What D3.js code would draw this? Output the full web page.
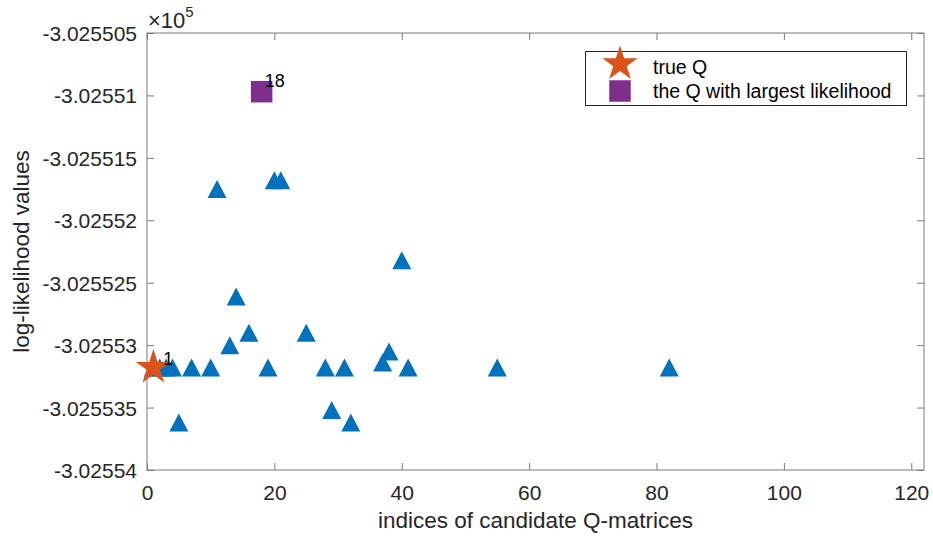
<!DOCTYPE html>
<html>
<head>
<meta charset="utf-8">
<script src="https://cdn.jsdelivr.net/npm/d3@7"></script>
<style>
  body { margin: 0; background: #fff; }
  svg { display: block; font-family: Helvetica, "Liberation Sans", Arial, sans-serif; }
</style>
</head>
<body>
<div id="chart"></div>
<script>
// candidate indices and their log-likelihood values (in units of 1e5)
const candidateIdx = [1, 2, 3, 4, 5, 7, 10, 11, 13, 14, 16, 18, 19, 20, 21, 25, 28, 29, 31, 32, 37, 38, 40, 41, 55, 82]
const logLik = [-3.0255318, -3.0255318, -3.0255318, -3.0255318, -3.0255362, -3.0255318, -3.0255318,
  -3.0255175, -3.0255300, -3.0255261, -3.0255290, -3.0255097, -3.0255318, -3.0255168, -3.0255168,
  -3.0255290, -3.0255318, -3.0255352, -3.0255318, -3.0255362, -3.0255314, -3.0255305, -3.0255232,
  -3.0255318, -3.0255318, -3.0255318]

const trueIdx = [1]
const trueLik = [-3.0255318]
const bestIdx = [18]
const bestLik = [-3.0255097]

const xTicks = [0, 20, 40, 60, 80, 100, 120]
const yTickLabels = ['-3.025505', '-3.02551', '-3.025515', '-3.02552', '-3.025525', '-3.02553', '-3.025535', '-3.02554']
const legendLabels = ['true Q', 'the Q with largest likelihood']

const W = 933, H = 539
const margin = { top: 33, right: 9, bottom: 69, left: 147 }
const blue = '#0072BD', orange = '#D95319', purple = '#7E2F8E'
const textColor = '#262626', axisColor = '#7a7a7a'

const x = d3.scaleLinear().domain([0, 122]).range([margin.left, W - margin.right])
const y = d3.scaleLinear().domain([-3.02554, -3.025505]).range([H - margin.bottom, margin.top])

const svg = d3.select('#chart').append('svg').attr('width', W).attr('height', H)

// triangle marker centred on its bounding box, like matlab '^'
const triType = {
  draw (ctx, size) {
    const w = 19, h = 18
    ctx.moveTo(0, -h / 2)
    ctx.lineTo(w / 2, h / 2)
    ctx.lineTo(-w / 2, h / 2)
    ctx.closePath()
  }
}
const squareType = {
  draw (ctx, size) {
    const s = 21.5
    ctx.rect(-s / 2, -s / 2, s, s)
  }
}

// axes (ticks pointing inward, box on)
const yTickVals = yTickLabels.map(Number)
const addAxis = (axis, tx, ty, showLabels) => {
  const g = svg.append('g').attr('transform', `translate(${tx},${ty})`).call(axis)
  g.select('.domain').remove()
  g.selectAll('.tick line').attr('stroke', axisColor)
  if (!showLabels) g.selectAll('.tick text').remove()
  return g
}
addAxis(d3.axisBottom(x).tickValues(xTicks).tickSizeInner(-7).tickSizeOuter(0).tickPadding(15), 0, H - margin.bottom, true)
addAxis(d3.axisTop(x).tickValues(xTicks).tickSizeInner(-7).tickSizeOuter(0), 0, margin.top, false)
const yl = addAxis(d3.axisLeft(y).tickValues(yTickVals).tickSizeInner(-7).tickSizeOuter(0).tickPadding(10)
  .tickFormat((d, i) => yTickLabels[i]), margin.left, 0, true)
addAxis(d3.axisRight(y).tickValues(yTickVals).tickSizeInner(-7).tickSizeOuter(0), W - margin.right, 0, false)
svg.selectAll('.tick text').attr('fill', textColor).style('font-size', '21px')
  .style('font-family', 'Helvetica, "Liberation Sans", Arial, sans-serif')
yl.selectAll('.tick text').attr('dy', '0.36em')

svg.append('rect')
  .attr('x', margin.left).attr('y', margin.top)
  .attr('width', W - margin.right - margin.left).attr('height', H - margin.bottom - margin.top)
  .attr('fill', 'none').attr('stroke', axisColor).attr('stroke-width', 1)

// exponent label
const ex = svg.append('text').attr('x', margin.left + 1).attr('y', 28).attr('fill', textColor)
ex.append('tspan').style('font-size', '22px').text('×10')
ex.append('tspan').attr('dy', -11).style('font-size', '15px').text('5')

// axis titles
svg.append('text').attr('x', (margin.left + W - margin.right) / 2).attr('y', 528)
  .attr('text-anchor', 'middle').attr('fill', textColor).style('font-size', '22.5px')
  .text('indices of candidate Q-matrices')
svg.append('text').attr('transform', `translate(29,${(margin.top + H - margin.bottom) / 2}) rotate(-90)`)
  .attr('text-anchor', 'middle').attr('fill', textColor).style('font-size', '22.5px')
  .text('log-likelihood values')

// candidates
svg.append('g').selectAll('path').data(candidateIdx).join('path')
  .attr('transform', (d, i) => `translate(${x(d)},${y(logLik[i])})`)
  .attr('d', d3.symbol(triType))
  .attr('fill', blue)

// true Q
svg.append('g').selectAll('path').data(trueIdx).join('path')
  .attr('transform', (d, i) => `translate(${x(d)},${y(trueLik[i])})`)
  .attr('d', d3.symbol(d3.symbolStar, 384))
  .attr('fill', orange)

// best Q
svg.append('g').selectAll('path').data(bestIdx).join('path')
  .attr('transform', (d, i) => `translate(${x(d)},${y(bestLik[i])})`)
  .attr('d', d3.symbol(squareType))
  .attr('fill', purple)

// point labels
svg.append('g').selectAll('text').data(trueIdx).join('text')
  .attr('x', (d) => x(d) + 10).attr('y', (d, i) => y(trueLik[i]) - 3)
  .attr('fill', '#000').style('font-size', '18px').text((d) => d)
svg.append('g').selectAll('text').data(bestIdx).join('text')
  .attr('x', (d) => x(d) + 3).attr('y', (d, i) => y(bestLik[i]) - 5)
  .attr('fill', '#000').style('font-size', '18px').text((d) => d)

// legend
const lg = svg.append('g')
lg.append('rect').attr('x', 585.5).attr('y', 51.5).attr('width', 321).attr('height', 54)
  .attr('fill', '#fff').attr('stroke', '#262626').attr('stroke-width', 1)
lg.append('path').attr('transform', 'translate(620,64)').attr('d', d3.symbol(d3.symbolStar, 384)).attr('fill', orange)
lg.append('path').attr('transform', 'translate(620,91)').attr('d', d3.symbol(squareType)).attr('fill', purple)
lg.selectAll('text.lbl').data(legendLabels).join('text').attr('class', 'lbl')
  .attr('x', 653).attr('y', (d, i) => 74 + i * 24)
  .attr('fill', '#000').style('font-size', '19.5px').text((d) => d)
</script>
</body>
</html>
